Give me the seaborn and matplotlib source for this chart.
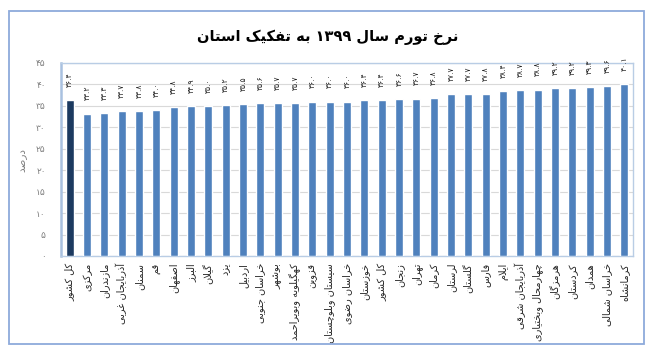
import matplotlib
matplotlib.use("Agg")
import matplotlib.pyplot as plt
import seaborn as sns
import pandas as pd
from matplotlib.patches import Rectangle
from matplotlib.ticker import FixedLocator

# ---------------- data ----------------
title = "نرخ تورم سال ۱۳۹۹ به تفکیک استان"
y_label = "درصد"
provinces = [
    "کل کشور", "مرکزی", "مازندران", "آذربایجان غربی", "سمنان", "قم", "اصفهان",
    "البرز", "گیلان", "یزد", "اردبیل", "خراسان جنوبی", "بوشهر",
    "کهگیلویه وبویراحمد", "قزوین", "سیستان وبلوچستان", "خراسان رضوی",
    "خوزستان", "کل کشور", "زنجان", "تهران", "کرمان", "لرستان", "گلستان",
    "فارس", "ایلام", "آذربایجان شرقی", "چهارمحال وبختیاری", "هرمزگان",
    "کردستان", "همدان", "خراسان شمالی", "کرمانشاه",
]
inflation = [
    36.4, 33.2, 33.3, 33.7, 33.8, 34.0, 34.8, 34.9, 35.0, 35.2, 35.5, 35.6,
    35.7, 35.7, 36.0, 36.0, 36.0, 36.4, 36.4, 36.6, 36.7, 36.8, 37.7, 37.7,
    37.8, 38.4, 38.7, 38.8, 39.2, 39.2, 39.3, 39.6, 40.1,
]
y_ticks = [0, 5, 10, 15, 20, 25, 30, 35, 40, 45]

# ---------------- Persian text helpers ----------------
FORMS = {  # isolated, final, initial, medial
    "ا": ("\uFE8D", "\uFE8E"), "آ": ("\uFE81", "\uFE82"),
    "ب": ("\uFE8F", "\uFE90", "\uFE91", "\uFE92"),
    "پ": ("\uFB56", "\uFB57", "\uFB58", "\uFB59"),
    "ت": ("\uFE95", "\uFE96", "\uFE97", "\uFE98"),
    "ث": ("\uFE99", "\uFE9A", "\uFE9B", "\uFE9C"),
    "ج": ("\uFE9D", "\uFE9E", "\uFE9F", "\uFEA0"),
    "چ": ("\uFB7A", "\uFB7B", "\uFB7C", "\uFB7D"),
    "ح": ("\uFEA1", "\uFEA2", "\uFEA3", "\uFEA4"),
    "خ": ("\uFEA5", "\uFEA6", "\uFEA7", "\uFEA8"),
    "د": ("\uFEA9", "\uFEAA"), "ذ": ("\uFEAB", "\uFEAC"),
    "ر": ("\uFEAD", "\uFEAE"), "ز": ("\uFEAF", "\uFEB0"),
    "ژ": ("\uFB8A", "\uFB8B"),
    "س": ("\uFEB1", "\uFEB2", "\uFEB3", "\uFEB4"),
    "ش": ("\uFEB5", "\uFEB6", "\uFEB7", "\uFEB8"),
    "ص": ("\uFEB9", "\uFEBA", "\uFEBB", "\uFEBC"),
    "ض": ("\uFEBD", "\uFEBE", "\uFEBF", "\uFEC0"),
    "ط": ("\uFEC1", "\uFEC2", "\uFEC3", "\uFEC4"),
    "ظ": ("\uFEC5", "\uFEC6", "\uFEC7", "\uFEC8"),
    "ع": ("\uFEC9", "\uFECA", "\uFECB", "\uFECC"),
    "غ": ("\uFECD", "\uFECE", "\uFECF", "\uFED0"),
    "ف": ("\uFED1", "\uFED2", "\uFED3", "\uFED4"),
    "ق": ("\uFED5", "\uFED6", "\uFED7", "\uFED8"),
    "ک": ("\uFB8E", "\uFB8F", "\uFB90", "\uFB91"),
    "گ": ("\uFB92", "\uFB93", "\uFB94", "\uFB95"),
    "ل": ("\uFEDD", "\uFEDE", "\uFEDF", "\uFEE0"),
    "م": ("\uFEE1", "\uFEE2", "\uFEE3", "\uFEE4"),
    "ن": ("\uFEE5", "\uFEE6", "\uFEE7", "\uFEE8"),
    "و": ("\uFEED", "\uFEEE"),
    "ه": ("\uFEE9", "\uFEEA", "\uFEEB", "\uFEEC"),
    "ی": ("\uFBFC", "\uFBFD", "\uFBFE", "\uFBFF"),
}
LAM_ALEF = {"ا": ("\uFEFB", "\uFEFC"), "آ": ("\uFEF5", "\uFEF6")}


def dual(c):
    return c in FORMS and len(FORMS[c]) == 4


def shape_word(w):
    out = []
    i = 0
    n = len(w)
    while i < n:
        c = w[i]
        if c not in FORMS:
            out.append(c)
            i += 1
            continue
        prev_joins = i > 0 and dual(w[i - 1])
        if c == "ل" and i + 1 < n and w[i + 1] in LAM_ALEF:
            out.append(LAM_ALEF[w[i + 1]][1 if prev_joins else 0])
            i += 2
            continue
        next_joins = dual(c) and i + 1 < n and w[i + 1] in FORMS
        f = FORMS[c]
        if prev_joins and next_joins:
            out.append(f[3])
        elif prev_joins:
            out.append(f[1])
        elif next_joins:
            out.append(f[2])
        else:
            out.append(f[0])
        i += 1
    return "".join(out)


DIGITS = set("۰۱۲۳۴۵۶۷۸۹0123456789.")


def rtl(s):
    words = s.split(" ")
    vis = []
    for w in words:
        if all(ch in DIGITS for ch in w):
            vis.append(w)
        else:
            vis.append(shape_word(w)[::-1])
    return " ".join(vis[::-1])


def fa_num(s):
    return str(s).translate(str.maketrans("0123456789", "۰۱۲۳۴۵۶۷۸۹"))


# ---------------- plot ----------------
sns.set_style("white")
plt.rcParams["font.family"] = ["DejaVu Sans"]

fig = plt.figure(figsize=(6.56, 3.6), dpi=100)
fig.patch.set_facecolor("white")
ax = fig.add_axes([61 / 656, 1 - 256 / 360, (633 - 61) / 656, (256 - 63) / 360])

n = len(provinces)
df = pd.DataFrame({"key": [str(i) for i in range(n)], "value": inflation})
colors = ["#1c3a60"] + ["#4f81bd"] * (n - 1)
sns.barplot(data=df, x="key", y="value", hue="key", palette=colors,
            legend=False, width=0.45, saturation=1, ax=ax, zorder=3)

ax.set_xlim(-0.5, n - 0.5)
ax.set_ylim(0, 45)
ax.yaxis.set_major_locator(FixedLocator(y_ticks))
ax.set_yticklabels([fa_num(t) for t in y_ticks], color="#7f7f7f", fontsize=6.5)
ax.tick_params(axis="y", length=0, pad=11)
ax.set_xticks(range(n))
ax.set_xticklabels([rtl(p) for p in provinces], rotation=90, fontsize=7,
                   ha="center", va="top")
ax.tick_params(axis="x", length=0, pad=5)
ax.grid(axis="y", color="#d9d9d9", lw=0.8)
ax.set_axisbelow(True)
for side, sp in ax.spines.items():
    sp.set_visible(True)
    sp.set_color("#b9cde5")
    sp.set_linewidth(1.0)
ax.spines["left"].set_linewidth(1.8)
ax.spines["left"].set_color("#a9c1e0")
ax.set_xlabel("")
ax.set_ylabel(rtl(y_label), color="#7f7f7f", fontsize=7.5, labelpad=6)

for i, v in enumerate(inflation):
    ax.annotate(fa_num(f"{v:.1f}"), xy=(i, v), xytext=(0, 9.5),
                textcoords="offset points", rotation=90, ha="center",
                va="bottom", fontsize=5.5, color="#222222",
                annotation_clip=False)

fig.text(0.5, 1 - 37 / 360, rtl(title), ha="center", va="center",
         fontsize=10.5, fontweight="bold", color="black")

fig.add_artist(Rectangle((9 / 656, 1 - 344 / 360), (644 - 9) / 656,
                         (344 - 11) / 360, transform=fig.transFigure,
                         fill=False, edgecolor="#8eaadb", lw=1.3))

fig.savefig("out.png", dpi=100, facecolor="white")
